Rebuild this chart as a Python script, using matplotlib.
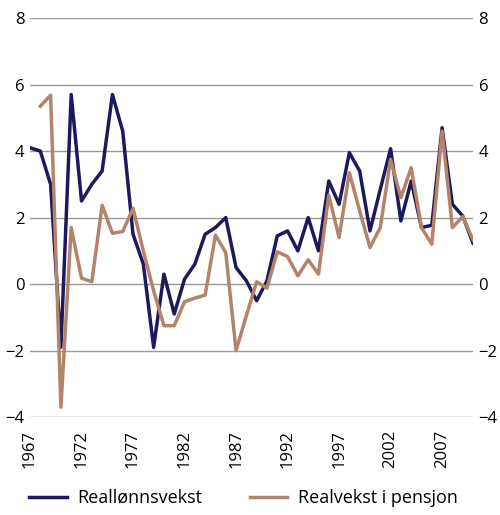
import matplotlib
matplotlib.use('Agg')
import matplotlib.pyplot as plt
import numpy as np

plt.rcParams['font.family'] = ['Open Sans', 'DejaVu Sans']

years = list(range(1967, 2011))
reallonn = [4.1, 4.0, 3.0, -1.9, 5.7, 2.5, 3.0, 3.4, 5.7, 4.6, 1.5, 0.6,
            -1.9, 0.3, -0.9, 0.15, 0.6, 1.5, 1.7, 2.0, 0.5, 0.1, -0.5, 0.1,
            1.45, 1.6, 1.0, 2.0, 1.0, 3.1, 2.4, 3.95, 3.4, 1.6,
            2.85, 4.07, 1.9, 3.1, 1.7, 1.77, 4.7, 2.4, 2.05, 1.23]
# ingen verdi for 1967
pensjon = [np.nan, 5.35, 5.68, -3.7, 1.7, 0.18, 0.07, 2.37, 1.53, 1.58, 2.28, 1.0,
           -0.2, -1.25, -1.25, -0.53, -0.42, -0.33, 1.47, 0.95, -2.0, -0.95, 0.07, -0.12,
           0.97, 0.83, 0.25, 0.73, 0.3, 2.67, 1.4, 3.35, 2.2, 1.1,
           1.7, 3.75, 2.6, 3.5, 1.7, 1.2, 4.6, 1.7, 2.03, 1.33]
yticks = [-4, -2, 0, 2, 4, 6, 8]
xticks = [1967, 1972, 1977, 1982, 1987, 1992, 1997, 2002, 2007]

navy = '#1c1a5c'
brown = '#b4846a'

fig = plt.figure(figsize=(5, 5.15), dpi=100)
ax = fig.add_axes([0.06, 0.19, 0.886, 0.775])

ax.plot(years, reallonn, color=navy, lw=2.5, label='Reallønnsvekst', zorder=3)
ax.plot(years, pensjon, color=brown, lw=2.5, label='Realvekst i pensjon', zorder=4)

ax.set_xlim(1967, 2010)
ax.set_ylim(-4, 8)
ax.set_yticks(yticks)
ax.set_xticks(xticks)
ax.set_xticklabels([str(x) for x in xticks], rotation=90, fontsize=12)
ax.grid(axis='y', color='#9a9a9a', lw=1)
ax.set_axisbelow(True)
for s in ax.spines.values():
    s.set_visible(False)
ax.tick_params(axis='both', length=0, labelsize=12)
ax.tick_params(axis='x', pad=9)
ax.tick_params(axis='y', labelright=True, pad=4)

fig.legend(loc='center', bbox_to_anchor=(0.487, 0.033), ncol=2, frameon=False,
           fontsize=13, handlelength=2.1, columnspacing=2.6, handletextpad=0.6)

plt.savefig('out.png', dpi=100)
